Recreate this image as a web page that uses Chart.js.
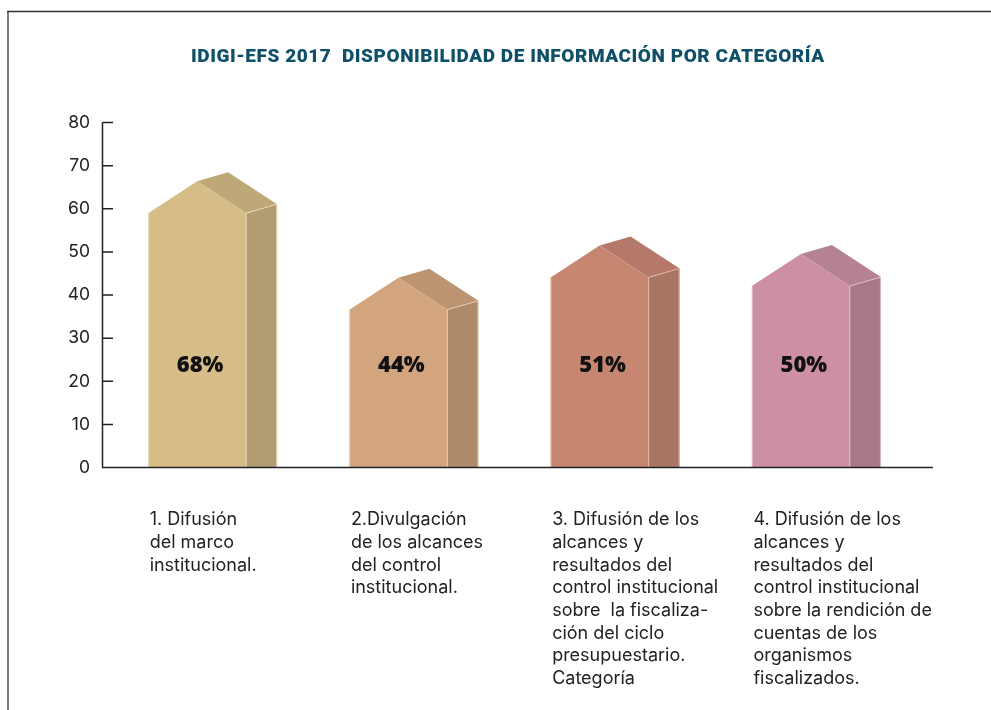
<!DOCTYPE html>
<html>
<head>
<meta charset="utf-8">
<script src="https://cdn.jsdelivr.net/npm/chart.js@4.4.1/dist/chart.umd.min.js"></script>
<style>
  html, body { margin: 0; padding: 0; background: #fff; }
  #wrap { position: relative; width: 991px; height: 710px; }
  canvas { display: block; }
</style>
</head>
<body>
<div id="wrap"><canvas id="c" width="991" height="710"></canvas></div>
<script>
// ---- data ----
const chartTitle = 'IDIGI-EFS 2017  DISPONIBILIDAD DE INFORMACIÓN POR CATEGORÍA';
const categories = [
  ["1. Difusión", "del marco", "institucional."],
  ["2.Divulgación", "de los alcances", "del control", "institucional."],
  ["3. Difusión de los", "alcances y", "resultados del", "control institucional", "sobre  la fiscaliza-", "ción del ciclo", "presupuestario.", "Categoría"],
  ["4. Difusión de los", "alcances y", "resultados del", "control institucional", "sobre la rendición de", "cuentas de los", "organismos", "fiscalizados."]
];
const heights = [66.4, 44.0, 51.5, 49.5];          // height of the front roof peak
const pctLabels = ["68%", "44%", "51%", "50%"];   // printed values
const yTicks = [0, 10, 20, 30, 40, 50, 60, 70, 80];

// ---- styles ----
const frontColors = ["#D6BD88", "#D2A57E", "#C78670", "#CC8FA3"];
const sideColors  = ["#B29C71", "#AE8B6A", "#A97664", "#A87888"];
const roofColors  = ["#BFA877", "#BC9471", "#B4796A", "#B58292"];
const edgeColors  = ["#EFE2C4", "#ECD3BC", "#E6C0B2", "#E9C5D1"];

const ROOF_H = 32, DEPTH_X = 31, DEPTH_Y = 9, FRONT_FRAC = 98 / 129;
const LABEL_VALUE = 23.7;

const housePlugin = {
  id: 'houses',
  beforeDraw(chart) {
    const ctx = chart.ctx;
    ctx.save();
    ctx.fillStyle = '#fff';
    ctx.fillRect(0, 0, chart.width, chart.height);
    // frame
    ctx.strokeStyle = '#7a7a7a';
    ctx.lineWidth = 2;
    ctx.beginPath(); ctx.moveTo(8, 11); ctx.lineTo(8, 710); ctx.stroke();
    ctx.strokeStyle = '#333';
    ctx.lineWidth = 1.5;
    ctx.beginPath(); ctx.moveTo(7, 11.5); ctx.lineTo(991, 11.5); ctx.stroke();
    // title
    ctx.fillStyle = '#0E5067';
    ctx.font = '900 19px Roboto, sans-serif';
    ctx.textBaseline = 'middle';
    ctx.textAlign = 'left';
    const target = 633;
    const natural = ctx.measureText(chartTitle).width;
    const n = [...chartTitle].length;
    const ls = (target - natural) / (n - 1);
    if ('letterSpacing' in ctx) ctx.letterSpacing = ls.toFixed(2) + 'px';
    ctx.fillText(chartTitle, 507.5 - target / 2, 57);
    ctx.restore();
  },
  afterDatasetsDraw(chart) {
    const ctx = chart.ctx;
    const meta = chart.getDatasetMeta(0);
    const ys = chart.scales.y;
    const base = ys.getPixelForValue(0);
    ctx.save();
    meta.data.forEach((bar, i) => {
      const w = bar.width;
      const left = bar.x - w / 2;
      const fw = w * FRONT_FRAC;
      const fr = left + fw;
      const right = left + w;
      const cx = left + fw / 2;
      const py = bar.y;
      const sy = py + ROOF_H;
      ctx.lineWidth = 1;
      ctx.lineJoin = 'round';
      // side face
      ctx.fillStyle = sideColors[i];
      ctx.beginPath();
      ctx.moveTo(fr, sy); ctx.lineTo(right, sy - DEPTH_Y); ctx.lineTo(right, base); ctx.lineTo(fr, base); ctx.closePath();
      ctx.fill();
      // roof side
      ctx.fillStyle = roofColors[i];
      ctx.beginPath();
      ctx.moveTo(cx, py); ctx.lineTo(cx + DEPTH_X, py - DEPTH_Y); ctx.lineTo(right, sy - DEPTH_Y); ctx.lineTo(fr, sy); ctx.closePath();
      ctx.fill();
      // front
      ctx.fillStyle = frontColors[i];
      ctx.beginPath();
      ctx.moveTo(left, base); ctx.lineTo(left, sy); ctx.lineTo(cx, py); ctx.lineTo(fr, sy); ctx.lineTo(fr, base); ctx.closePath();
      ctx.fill();
      // light edges
      ctx.strokeStyle = edgeColors[i];
      ctx.globalAlpha = 0.8;
      ctx.beginPath();
      ctx.moveTo(left + 0.5, base); ctx.lineTo(left + 0.5, sy);
      ctx.moveTo(fr, base); ctx.lineTo(fr, sy); ctx.lineTo(right, sy - DEPTH_Y);
      ctx.moveTo(right - 0.5, sy - DEPTH_Y); ctx.lineTo(right - 0.5, base);
      ctx.stroke();
      ctx.globalAlpha = 1;
      // percent label
      ctx.fillStyle = '#111';
      ctx.font = '800 22px "Open Sans", sans-serif';
      ctx.textAlign = 'center';
      ctx.textBaseline = 'middle';
      ctx.fillText(pctLabels[i], cx + 3, ys.getPixelForValue(LABEL_VALUE));
    });
    // axes
    ctx.strokeStyle = '#222';
    ctx.lineWidth = 1.5;
    ctx.beginPath();
    ctx.moveTo(102.5, ys.getPixelForValue(80)); ctx.lineTo(102.5, base + 0.75);
    yTicks.forEach(t => {
      const y = ys.getPixelForValue(t);
      ctx.moveTo(102.5, y); ctx.lineTo(113, y);
    });
    ctx.moveTo(102, base); ctx.lineTo(933, base);
    ctx.stroke();
    ctx.restore();
  }
};

new Chart(document.getElementById('c'), {
  type: 'bar',
  data: {
    labels: categories,
    datasets: [{
      data: heights,
      backgroundColor: 'rgba(0,0,0,0)',
      borderWidth: 0,
      barPercentage: 129 / 201.25,
      categoryPercentage: 1
    }]
  },
  options: {
    responsive: false,
    animation: false,
    events: [],
    layout: { padding: { left: 0, right: 74, top: 122.5, bottom: 0 } },
    plugins: {
      legend: { display: false },
      tooltip: { enabled: false },
      title: { display: false }
    },
    scales: {
      x: {
        grid: { display: false, drawTicks: false },
        border: { display: false },
        afterFit(scale) {
          scale.height = 710 - 467.5;
          scale.paddingLeft = 0; scale.paddingRight = 0;
        },
        ticks: {
          color: '#222',
          font: { family: 'Inter', size: 18, lineHeight: 1.26 },
          align: 'start',
          labelOffset: -63,
          padding: 41,
          maxRotation: 0,
          minRotation: 0,
          autoSkip: false
        }
      },
      y: {
        min: 0,
        max: 80,
        grid: { display: false, drawTicks: false },
        border: { display: false },
        afterFit(scale) { scale.width = 112; scale.paddingTop = 0; scale.paddingBottom = 0; },
        afterBuildTicks(scale) { scale.ticks = yTicks.map(v => ({ value: v })); },
        ticks: {
          color: '#222',
          font: { family: 'Inter', size: 17.5 },
          padding: 22
        }
      }
    }
  },
  plugins: [housePlugin]
});
</script>
</body>
</html>
